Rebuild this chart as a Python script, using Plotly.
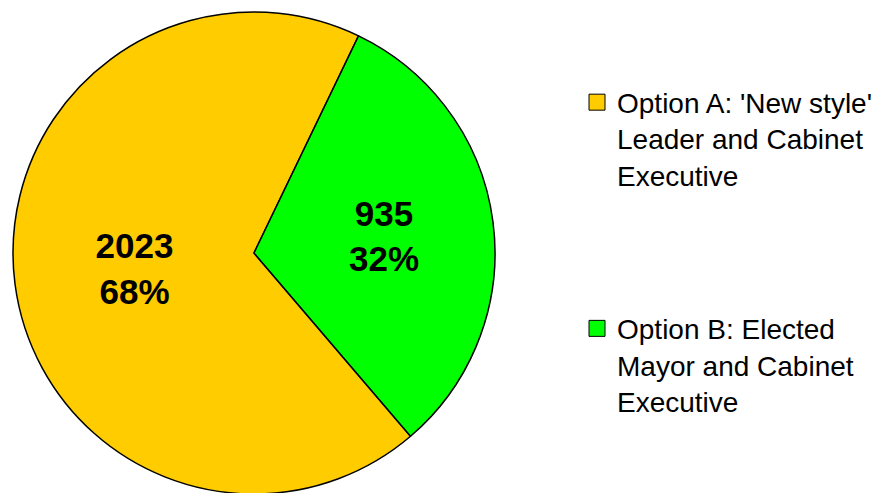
import plotly.graph_objects as go

labels = ["Option A: 'New style'<br>Leader and Cabinet<br>Executive",
          "Option B: Elected<br>Mayor and Cabinet<br>Executive"]
values = [2023, 935]
colors = ["#FFCC00", "#00FF00"]

fig = go.Figure()
fig.add_trace(go.Pie(
    labels=labels, values=values, sort=False, direction="clockwise",
    rotation=139.5,
    marker=dict(colors=colors, line=dict(color="black", width=1.5)),
    texttemplate="<b>%{value}<br>%{percent:.0%}</b>",
    textposition="inside", insidetextorientation="horizontal",
    textfont=dict(family="Liberation Sans, Arial", size=35, color="black"),
    domain=dict(x=[5/888, 487/888], y=[7/489, 1]),
    showlegend=False, hoverinfo="skip",
))
for i, (lab, col) in enumerate(zip(labels, colors)):
    fig.add_trace(go.Scatter(
        x=[None], y=[None], mode="markers", name=lab, legendgroup=f"g{i}",
        marker=dict(symbol="square", size=18, color=col, line=dict(color="black", width=1)),
    ))

fig.update_layout(
    width=888, height=493,
    margin=dict(l=0, r=0, t=4, b=0),
    paper_bgcolor="white", plot_bgcolor="white",
    xaxis=dict(visible=False), yaxis=dict(visible=False),
    font=dict(family="Liberation Sans, Arial", color="black"),
    legend=dict(x=569/888, y=1 - 66/493, xanchor="left", yanchor="top",
                font=dict(size=28), valign="top", tracegroupgap=114,
                traceorder="grouped", bgcolor="rgba(0,0,0,0)"),
)
fig.write_html("out.html")
